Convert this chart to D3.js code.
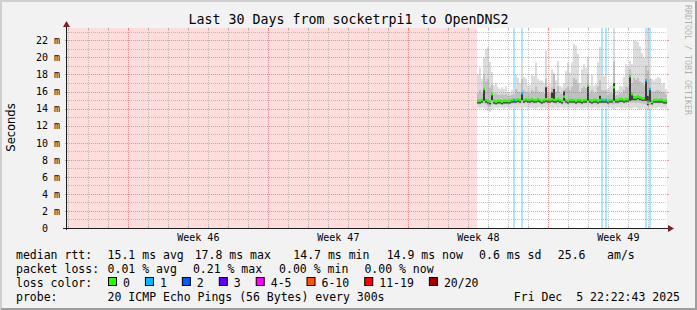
<!DOCTYPE html>
<html><head><meta charset="utf-8">
<script src="https://cdn.jsdelivr.net/npm/d3@7"></script>
<style>
html,body{margin:0;padding:0;background:#f2f2f2;overflow:hidden;}
svg{display:block;}
text{font-family:"DejaVu Sans Mono",monospace;fill:#000;white-space:pre;}
</style></head><body>
<svg id="chart" width="697" height="310"></svg>
<script>
// ---------------- data ----------------
const chartTitle = "Last 30 Days from socketrpi1 to OpenDNS2";
const yAxisTitle = "Seconds";
const watermark = "RRDTOOL / TOBI OETIKER";
const endTime = new Date(2025, 11, 5, 22, 22, 43);
const spanDays = 30;
const firstSample = new Date(2025, 10, 26, 10, 22, 43);
const stepMinutes = 144;
const yMaxMs = 23.45;
const yTickValues = [0, 2, 4, 6, 8, 10, 12, 14, 16, 18, 20, 22];

const median = [
 14.9,14.9,15.0,16.3,15.0,14.9,14.8,15.7,14.9,14.8,
 14.9,14.9,14.8,14.9,14.9,14.9,14.9,15.0,15.0,15.0,
 15.1,15.0,15.8,15.0,15.1,15.0,15.0,15.1,15.0,15.0,
 15.1,15.0,14.9,15.0,15.1,15.0,15.0,15.1,15.0,15.0,
 15.1,15.0,14.9,15.4,15.0,14.9,15.0,15.0,15.0,14.9,
 15.0,15.0,14.9,15.0,15.0,16.7,15.0,14.9,15.0,15.0,
 14.9,15.0,15.0,15.0,15.0,14.9,15.0,15.0,16.5,15.0,
 15.0,15.1,15.1,15.0,15.1,15.1,17.8,15.7,15.3,15.3,
 15.4,15.3,15.2,15.2,17.3,14.7,16.3,14.8,15.0,15.0,
 15.0,15.0,15.0,14.9,14.9];
const loss = [
 0,0,0,0,0,0,0,0,0,0,
 0,0,0,0,0,0,0,0,1,0,
 0,0,1,0,0,0,0,0,0,0,
 0,0,0,0,0,0,0,0,0,0,
 0,0,0,0,0,0,0,0,0,0,
 0,0,0,0,0,0,0,0,0,0,
 0,0,1,0,1,0,0,0,0,0,
 0,0,0,0,0,0,0,0,0,0,
 0,0,0,0,1,0,1,0,0,0,
 0,0,0,0,0];
const pingMin = [
 14.1,14.0,14.1,14.0,13.9,13.7,13.6,13.9,14.0,14.1,
 14.0,14.1,14.1,14.0,14.1,14.1,14.0,14.1,14.1,14.0,
 14.0,14.1,14.0,14.1,14.1,14.0,14.1,14.1,14.0,14.0,
 14.1,14.1,14.0,14.1,14.0,14.1,14.1,14.0,14.0,14.1,
 14.0,14.1,14.1,14.0,14.1,14.0,14.1,14.1,14.0,14.0,
 14.1,14.1,14.0,14.1,14.1,14.0,14.1,14.0,14.1,14.1,
 14.0,14.1,14.0,14.1,14.0,14.1,14.1,14.0,13.9,14.1,
 14.1,14.1,14.0,14.1,14.0,14.1,14.0,14.0,14.1,14.1,
 14.0,13.9,14.0,14.0,13.8,13.8,13.9,14.0,14.1,14.0,
 14.1,14.1,14.0,14.1,14.0];
const pingLow = [
 14.5,14.5,14.6,14.6,14.5,14.3,14.2,14.5,14.5,14.5,
 14.5,14.6,14.5,14.5,14.6,14.5,14.5,14.6,14.6,14.6,
 14.6,14.6,14.6,14.6,14.7,14.6,14.6,14.6,14.6,14.6,
 14.7,14.6,14.5,14.6,14.6,14.6,14.6,14.7,14.6,14.6,
 14.6,14.6,14.5,14.6,14.6,14.5,14.6,14.6,14.6,14.5,
 14.6,14.6,14.5,14.6,14.6,14.6,14.6,14.5,14.6,14.6,
 14.5,14.6,14.6,14.6,14.6,14.5,14.6,14.6,14.5,14.6,
 14.6,14.6,14.7,14.6,14.6,14.7,14.7,14.7,14.7,14.7,
 14.7,14.7,14.6,14.6,14.5,14.3,14.4,14.4,14.6,14.6,
 14.6,14.6,14.6,14.5,14.5];
const coreLow = [
 14.6,14.6,14.7,14.9,14.7,14.6,14.5,15.0,14.6,14.5,
 14.6,14.6,14.5,14.6,14.6,14.6,14.6,14.7,14.7,14.7,
 14.8,14.7,15.0,14.7,14.8,14.7,14.7,14.8,14.7,14.7,
 14.8,14.7,14.6,14.7,14.8,14.7,14.7,14.8,14.7,14.7,
 14.8,14.7,14.6,14.9,14.7,14.6,14.7,14.7,14.7,14.6,
 14.7,14.7,14.6,14.7,14.7,14.9,14.7,14.6,14.7,14.7,
 14.6,14.7,14.7,14.7,14.7,14.6,14.7,14.7,14.9,14.7,
 14.7,14.8,14.8,14.7,14.8,14.8,14.9,15.0,15.0,15.0,
 15.1,15.0,14.9,14.9,14.9,14.4,14.8,14.5,14.7,14.7,
 14.7,14.7,14.7,14.6,14.6];
const coreHigh = [
 15.0,15.0,15.1,16.3,15.1,15.0,14.9,15.7,15.0,14.9,
 15.0,15.0,14.9,15.0,15.0,15.0,15.0,15.1,15.1,15.1,
 15.2,15.1,15.8,15.1,15.2,15.1,15.1,15.2,15.1,15.1,
 15.2,15.1,15.0,15.1,16.5,15.1,15.1,15.9,16.3,15.1,
 15.2,15.1,15.0,16.0,15.1,15.0,15.1,15.1,15.1,15.0,
 15.1,15.1,15.0,15.1,15.1,16.7,15.1,15.0,15.1,15.1,
 15.0,15.5,15.1,15.1,15.1,15.0,15.1,15.1,17.0,15.1,
 15.1,15.2,15.2,15.1,15.2,15.2,17.8,15.8,15.4,15.4,
 15.5,15.4,15.3,15.3,17.3,15.5,16.3,14.9,15.1,15.1,
 15.1,15.1,15.1,15.0,15.0];
const pingHigh = [
 15.8,16.2,15.8,18.0,17.2,17.5,16.5,16.8,15.7,15.8,
 15.6,15.6,15.7,15.6,15.7,15.5,15.5,15.6,15.7,16.3,
 16.0,15.9,17.5,16.2,16.0,15.8,15.8,16.2,16.0,16.6,
 16.0,15.9,15.9,15.8,17.5,15.8,15.8,16.5,18.0,16.0,
 16.6,15.8,15.7,16.2,16.4,16.6,16.2,16.6,17.6,17.4,
 17.0,15.9,16.4,16.6,16.4,18.0,15.8,16.2,15.8,15.9,
 16.6,17.3,16.2,16.1,16.2,15.6,15.8,15.8,19.5,15.6,
 15.6,15.8,15.8,16.2,16.6,16.5,18.6,17.0,17.6,17.4,
 17.6,17.2,17.0,16.8,19.0,18.5,17.5,16.0,16.0,16.1,
 16.2,16.1,15.9,15.9,15.7];
const pingMax = [
 18.0,18.8,17.5,20.0,21.0,21.2,19.5,18.3,16.7,17.0,
 16.5,16.3,16.5,16.3,16.6,16.0,15.9,16.2,16.3,18.0,
 17.6,17.0,19.7,17.7,17.5,16.7,16.8,18.0,17.8,19.4,
 17.5,17.3,17.3,17.0,20.8,16.7,16.9,18.6,18.2,17.3,
 19.6,16.7,16.5,17.0,18.4,19.4,18.2,19.4,21.6,21.4,
 20.4,17.0,18.6,19.2,18.8,20.0,16.7,18.0,16.7,16.9,
 19.4,21.2,18.0,17.8,18.0,16.3,16.7,16.7,24.0,16.1,
 16.2,16.7,16.6,17.7,19.2,19.0,19.6,19.2,22.0,21.9,
 21.8,21.3,20.5,20.0,22.6,24.0,20.0,17.5,17.3,17.5,
 17.7,17.6,16.9,17.0,16.3];

const lossLabels = ["0", "1", "2", "3", "4-5", "6-10", "11-19", "20/20"];
const lossUpper  = [0, 1, 2, 3, 5, 10, 19, 20];
const lossColors = ["#26ff00", "#00b8ff", "#0059ff", "#5e00ff", "#ff00ff", "#ff5500", "#ff0000", "#a10000"];

const rttStats  = ["15.1 ms avg", "17.8 ms max", "14.7 ms min", "14.9 ms now", "0.6 ms sd"];
const rttAmS    = ["25.6", "am/s"];
const lossStats = ["0.01 % avg", "0.21 % max", "0.00 % min", "0.00 % now"];
const probeText = "20 ICMP Echo Pings (56 Bytes) every 300s";
const dateText  = "Fri Dec  5 22:22:43 2025";

// ---------------- drawing ----------------
const W = 697, H = 310;
const P = {left: 67, right: 667, top: 28, bottom: 228};
const svg = d3.select("#chart");
const startTime = d3.timeDay.offset(endTime, -spanDays);
const x = d3.scaleTime().domain([startTime, endTime]).range([P.left, P.right]);
const y = d3.scaleLinear().domain([0, yMaxMs]).range([P.bottom, P.top]);
const times = median.map((_, i) => d3.timeMinute.offset(firstSample, i * stepMinutes));
const tEnd = i => d3.timeMinute.offset(firstSample, (i + 1) * stepMinutes);
const lossIndex = n => lossUpper.findIndex(u => n <= u);

svg.append("rect").attr("width", W).attr("height", H).attr("fill", "#f2f2f2");
svg.append("path").attr("d", `M0,0H${W}V2H2V${H}H0Z`).attr("fill", "#cfcfcf");
svg.append("path").attr("d", `M${W},${H}H1V${H-2}H${W-2}V1H${W}Z`).attr("fill", "#9e9e9e");

svg.append("defs").append("clipPath").attr("id", "plotclip")
  .append("rect").attr("x", P.left).attr("y", P.top)
  .attr("width", P.right - P.left).attr("height", P.bottom - P.top);

const g = svg.append("g").attr("clip-path", "url(#plotclip)");
g.append("rect").attr("x", P.left).attr("y", P.top)
  .attr("width", P.right - P.left).attr("height", P.bottom - P.top).attr("fill", "#ffffff");
// unknown (no data) region
g.append("rect").attr("x", x(startTime)).attr("y", P.top)
  .attr("width", x(firstSample) - x(startTime)).attr("height", P.bottom - P.top).attr("fill", "#ffdddd");

// loss bars
const lossIdx = d3.range(median.length).filter(i => loss[i] > 0);
g.selectAll("rect.lossbar").data(lossIdx).join("rect").attr("class", "lossbar")
  .attr("x", i => x(times[i])).attr("width", i => x(tEnd(i)) - x(times[i]))
  .attr("y", y(yMaxMs)).attr("height", y(0) - y(yMaxMs))
  .attr("fill", i => lossColors[lossIndex(loss[i])]).attr("fill-opacity", 0.33);

// smoke
const bands = [
  {lo: pingMin, hi: pingMax, fill: "#dcdcdc"},
  {lo: pingLow, hi: pingHigh, fill: "#c0c0c0"},
  {lo: coreLow, hi: coreHigh, fill: "#3a3a3a"}
];
bands.forEach((b, k) => {
  g.selectAll("rect.band" + k).data(d3.range(median.length)).join("rect").attr("class", "band" + k)
    .attr("x", i => x(times[i])).attr("width", i => x(tEnd(i)) - x(times[i]))
    .attr("y", i => y(b.hi[i])).attr("height", i => y(b.lo[i]) - y(b.hi[i]))
    .attr("fill", b.fill);
});

// grid
const gridG = svg.append("g");
const sundays = d3.timeSunday.range(startTime, endTime);
const days = d3.timeDay.range(d3.timeDay.ceil(startTime), endTime).filter(d => d.getDay() !== 0);
const minorCol = "rgba(143,143,143,0.5)", majorCol = "rgba(222,79,79,0.55)";
gridG.selectAll("line.vmin").data(days).join("line")
  .attr("x1", d => Math.round(x(d)) + 0.5).attr("x2", d => Math.round(x(d)) + 0.5)
  .attr("y1", P.top).attr("y2", P.bottom).attr("stroke", minorCol).attr("stroke-dasharray", "1,1");
gridG.selectAll("line.vmaj").data(sundays).join("line")
  .attr("x1", d => Math.round(x(d)) + 0.5).attr("x2", d => Math.round(x(d)) + 0.5)
  .attr("y1", P.top).attr("y2", P.bottom).attr("stroke", majorCol).attr("stroke-dasharray", "1,1");
const hMinor = d3.range(1, Math.floor(yMaxMs) + 1).filter(v => !yTickValues.includes(v));
gridG.selectAll("line.hmin").data(hMinor).join("line")
  .attr("x1", P.left).attr("x2", P.right)
  .attr("y1", v => Math.round(y(v)) + 0.5).attr("y2", v => Math.round(y(v)) + 0.5)
  .attr("stroke", minorCol).attr("stroke-dasharray", "1,1");
gridG.selectAll("line.hmaj").data(yTickValues.filter(v => v > 0)).join("line")
  .attr("x1", P.left).attr("x2", P.right)
  .attr("y1", v => Math.round(y(v)) + 0.5).attr("y2", v => Math.round(y(v)) + 0.5)
  .attr("stroke", majorCol).attr("stroke-dasharray", "1,1");
// small solid ticks at the ends of grid lines
gridG.selectAll("line.htick").data(yTickValues.filter(v => v > 0)).join("line")
  .attr("x1", P.left - 2).attr("x2", P.left)
  .attr("y1", v => Math.round(y(v)) + 0.5).attr("y2", v => Math.round(y(v)) + 0.5)
  .attr("stroke", majorCol);
gridG.selectAll("line.htick2").data(yTickValues.filter(v => v > 0)).join("line")
  .attr("x1", P.right).attr("x2", P.right + 2)
  .attr("y1", v => Math.round(y(v)) + 0.5).attr("y2", v => Math.round(y(v)) + 0.5)
  .attr("stroke", majorCol);
[P.top, P.bottom - 2].forEach((yy, k) => {
  gridG.selectAll("line.dt" + k).data(days).join("line")
    .attr("x1", d => Math.round(x(d)) + 0.5).attr("x2", d => Math.round(x(d)) + 0.5)
    .attr("y1", yy).attr("y2", yy + 2).attr("stroke", minorCol);
  gridG.selectAll("line.wt" + k).data(sundays).join("line")
    .attr("x1", d => Math.round(x(d)) + 0.5).attr("x2", d => Math.round(x(d)) + 0.5)
    .attr("y1", yy).attr("y2", yy + 2).attr("stroke", majorCol);
});

// median (drawn like smokeping: short band per column, coloured by loss)
const halfW = 1.3;
g.selectAll("rect.med").data(d3.range(median.length)).join("rect").attr("class", "med")
  .attr("x", i => x(times[i])).attr("width", i => x(tEnd(i)) - x(times[i]))
  .attr("y", i => y(median[i]) - halfW).attr("height", halfW * 2)
  .attr("fill", i => lossColors[lossIndex(loss[i])]);

// axes
const axisCol = "#1f1f1f", arrowCol = "#801f1f";
svg.append("line").attr("x1", P.left - 0.5).attr("x2", P.left - 0.5)
  .attr("y1", P.bottom + 2).attr("y2", P.top - 4).attr("stroke", axisCol);
svg.append("line").attr("x1", P.left - 4).attr("x2", P.right + 4)
  .attr("y1", P.bottom + 0.5).attr("y2", P.bottom + 0.5).attr("stroke", axisCol);
svg.append("path").attr("d", `M${P.left - 0.5},${P.top - 7}L${P.left + 3},${P.top - 1}H${P.left - 4}Z`).attr("fill", arrowCol);
svg.append("path").attr("d", `M${P.right + 7},${P.bottom + 0.5}L${P.right + 1},${P.bottom - 3}V${P.bottom + 4}Z`).attr("fill", arrowCol);

// y labels
svg.selectAll("text.ylab").data(yTickValues).join("text").attr("class", "ylab")
  .attr("x", 60).attr("y", v => y(v) + 3.8).attr("text-anchor", "end")
  .style("font-size", "10px")
  .text(v => v === 0 ? "0  " : `${v} m`);

// week labels
const weekFmt = d3.timeFormat("Week %V");
const weekMids = sundays.map(s => new Date((+s + +d3.timeWeek.offset(s, 1)) / 2))
  .filter(m => m > startTime && m < endTime);
svg.selectAll("text.wk").data(weekMids).join("text").attr("class", "wk")
  .attr("x", d => x(d)).attr("y", 241).attr("text-anchor", "middle")
  .style("font-size", "10px").text(d => weekFmt(d));

// title
svg.append("text").attr("x", W / 2).attr("y", 23.5).attr("text-anchor", "middle")
  .style("font-size", "13.3px").text(chartTitle);
svg.append("text").attr("transform", "translate(14.5,127.5) rotate(-90)")
  .attr("text-anchor", "middle").style("font-family", "'DejaVu Sans',sans-serif")
  .style("font-size", "11.5px").text(yAxisTitle);
svg.append("text").attr("transform", "translate(685,5) rotate(90)")
  .style("font-size", "8.3px").style("fill", "rgba(0,0,0,0.3)").text(watermark);

// legend
const LF = "11.5px", CW = 6.93;
const rows = [258.5, 272.8, 287, 301.3];
const lt = (xx, yy, s, anchor) => svg.append("text").attr("x", xx).attr("y", yy)
  .attr("text-anchor", anchor || "start").style("font-size", LF).text(s);
lt(16, rows[0], "median rtt:");
[107.6, 194.7, 293.3, 386.7, 479.1].forEach((xx, k) => lt(xx, rows[0], rttStats[k]));
lt(557.8, rows[0], rttAmS[0]); lt(607.1, rows[0], rttAmS[1]);
lt(16, rows[1], "packet loss:");
[107.6, 192.9, 279.1, 364.4].forEach((xx, k) => lt(xx, rows[1], lossStats[k]));
lt(16, rows[2], "loss color:");
let bx = 108;
lossLabels.forEach((lab, k) => {
  svg.append("rect").attr("x", bx + 0.5).attr("y", rows[2] - 9.5).attr("width", 8).attr("height", 8)
    .attr("fill", lossColors[k]).attr("stroke", "#000").attr("stroke-width", 1);
  lt(bx + 15, rows[2], lab);
  bx = bx + 15 + lab.length * CW + 15;
});
lt(16, rows[3], "probe:");
lt(107.6, rows[3], probeText);
lt(680, rows[3], dateText, "end");
</script>
</body></html>
